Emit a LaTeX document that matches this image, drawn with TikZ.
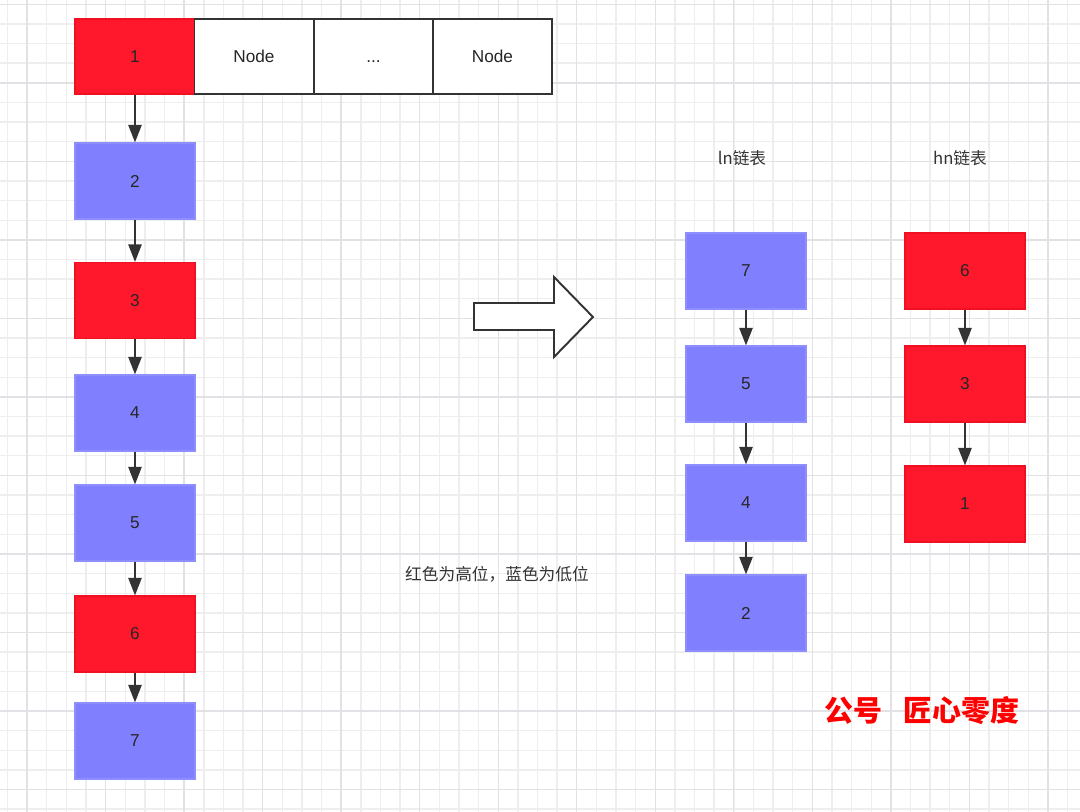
\documentclass[tikz,border=0pt]{standalone}
\usepackage{fontspec}
\setmainfont{Liberation Sans}
\newfontfamily\cjk{Noto Sans CJK SC}
\usetikzlibrary{arrows.meta}
\definecolor{hired}{RGB}{255,24,44}
\definecolor{hiredline}{RGB}{240,16,34}
\definecolor{loblue}{RGB}{128,128,255}
\definecolor{loblueline}{RGB}{142,142,255}
\definecolor{darkline}{RGB}{51,51,51}
\definecolor{gridlight}{RGB}{238,238,238}
\definecolor{gridheavy}{RGB}{226,226,230}

\begin{document}
\begin{tikzpicture}[x=0.02cm, y=-0.02cm, >={Triangle[width=7.5pt,length=10pt]},
    cell/.style={minimum width=2.4cm, minimum height=1.52cm, inner sep=0pt,
        font=\fontsize{9.8}{11}\selectfont, text=black!85},
    hibox/.style={cell, fill=hired, draw=hiredline, line width=0.6pt},
    lobox/.style={cell, fill=loblue, draw=loblueline, line width=0.6pt},
    slot/.style={cell, minimum width=2.38cm, minimum height=1.5cm, fill=white, draw=darkline, line width=1.1pt},
    link/.style={->, draw=darkline, line width=1.1pt},
    caption/.style={font=\cjk\fontsize{9.5}{11}\selectfont, text=black!80}]
    \useasboundingbox (0,0) rectangle (1080,812);

    % background grid
    \foreach \i in {0,...,54}
        \draw[gridlight, line width=0.8pt] (7.5+19.63*\i,0) -- (7.5+19.63*\i,812);
    \foreach \j in {0,...,41}
        \draw[gridlight, line width=0.8pt] (0,4.3+19.63*\j) -- (1080,4.3+19.63*\j);
    \foreach \i in {0,...,13}
        \draw[gridheavy, line width=0.8pt] (27.1+78.52*\i,0) -- (27.1+78.52*\i,812);
    \foreach \j in {0,...,10}
        \draw[gridheavy, line width=0.8pt] (0,4.3+78.52*\j) -- (1080,4.3+78.52*\j);

    % table row
    \node[hibox, minimum height=1.5cm] (t1) at (135,56.5) {1};
    \node[slot] (slotA) at (254,56.5) {Node};
    \node[slot] (slotB) at (373.5,56.5) {\vphantom{N}...};
    \node[slot] (slotC) at (492.5,56.5) {Node};

    % original chain
    \node[lobox] (c2) at (135,181) {2};
    \node[hibox] (c3) at (135,300.5) {3};
    \node[lobox] (c4) at (135,413) {4};
    \node[lobox] (c5) at (135,523) {5};
    \node[hibox] (c6) at (135,634) {6};
    \node[lobox] (c7) at (135,741) {7};

    \draw[link] (t1.south) -- (c2.north);
    \draw[link] (c2) -- (c3);
    \draw[link] (c3) -- (c4);
    \draw[link] (c4) -- (c5);
    \draw[link] (c5) -- (c6);
    \draw[link] (c6) -- (c7);

    % split arrow
    \draw[darkline, fill=white, line width=1.1pt, line join=miter]
        (474,303) -- (554,303) -- (554,277) -- (593,317) -- (554,357) -- (554,330) -- (474,330) -- cycle;

    \node[caption] (legend) at (497,574) {红色为高位，蓝色为低位};

    % ln list
    \node[caption] (lnhead) at (742,158) {ln链表};
    \node[lobox] (ln7) at (746,271) {7};
    \node[lobox] (ln5) at (746,384) {5};
    \node[lobox] (ln4) at (746,503) {4};
    \node[lobox] (ln2) at (746,613) {2};
    \draw[link] (ln7) -- (ln5);
    \draw[link] (ln5) -- (ln4);
    \draw[link] (ln4) -- (ln2);

    % hn list
    \node[caption] (hnhead) at (960,158) {hn链表};
    \node[hibox] (hn6) at (965,271) {6};
    \node[hibox] (hn3) at (965,384) {3};
    \node[hibox] (hn1) at (965,504) {1};
    \draw[link] (hn6) -- (hn3);
    \draw[link] (hn3) -- (hn1);

    \node[font=\cjk\bfseries\fontsize{16.5}{18}\selectfont, text=red] (mark) at (922,711) {公号\hspace{0.7em}匠心零度};
\end{tikzpicture}
\end{document}
